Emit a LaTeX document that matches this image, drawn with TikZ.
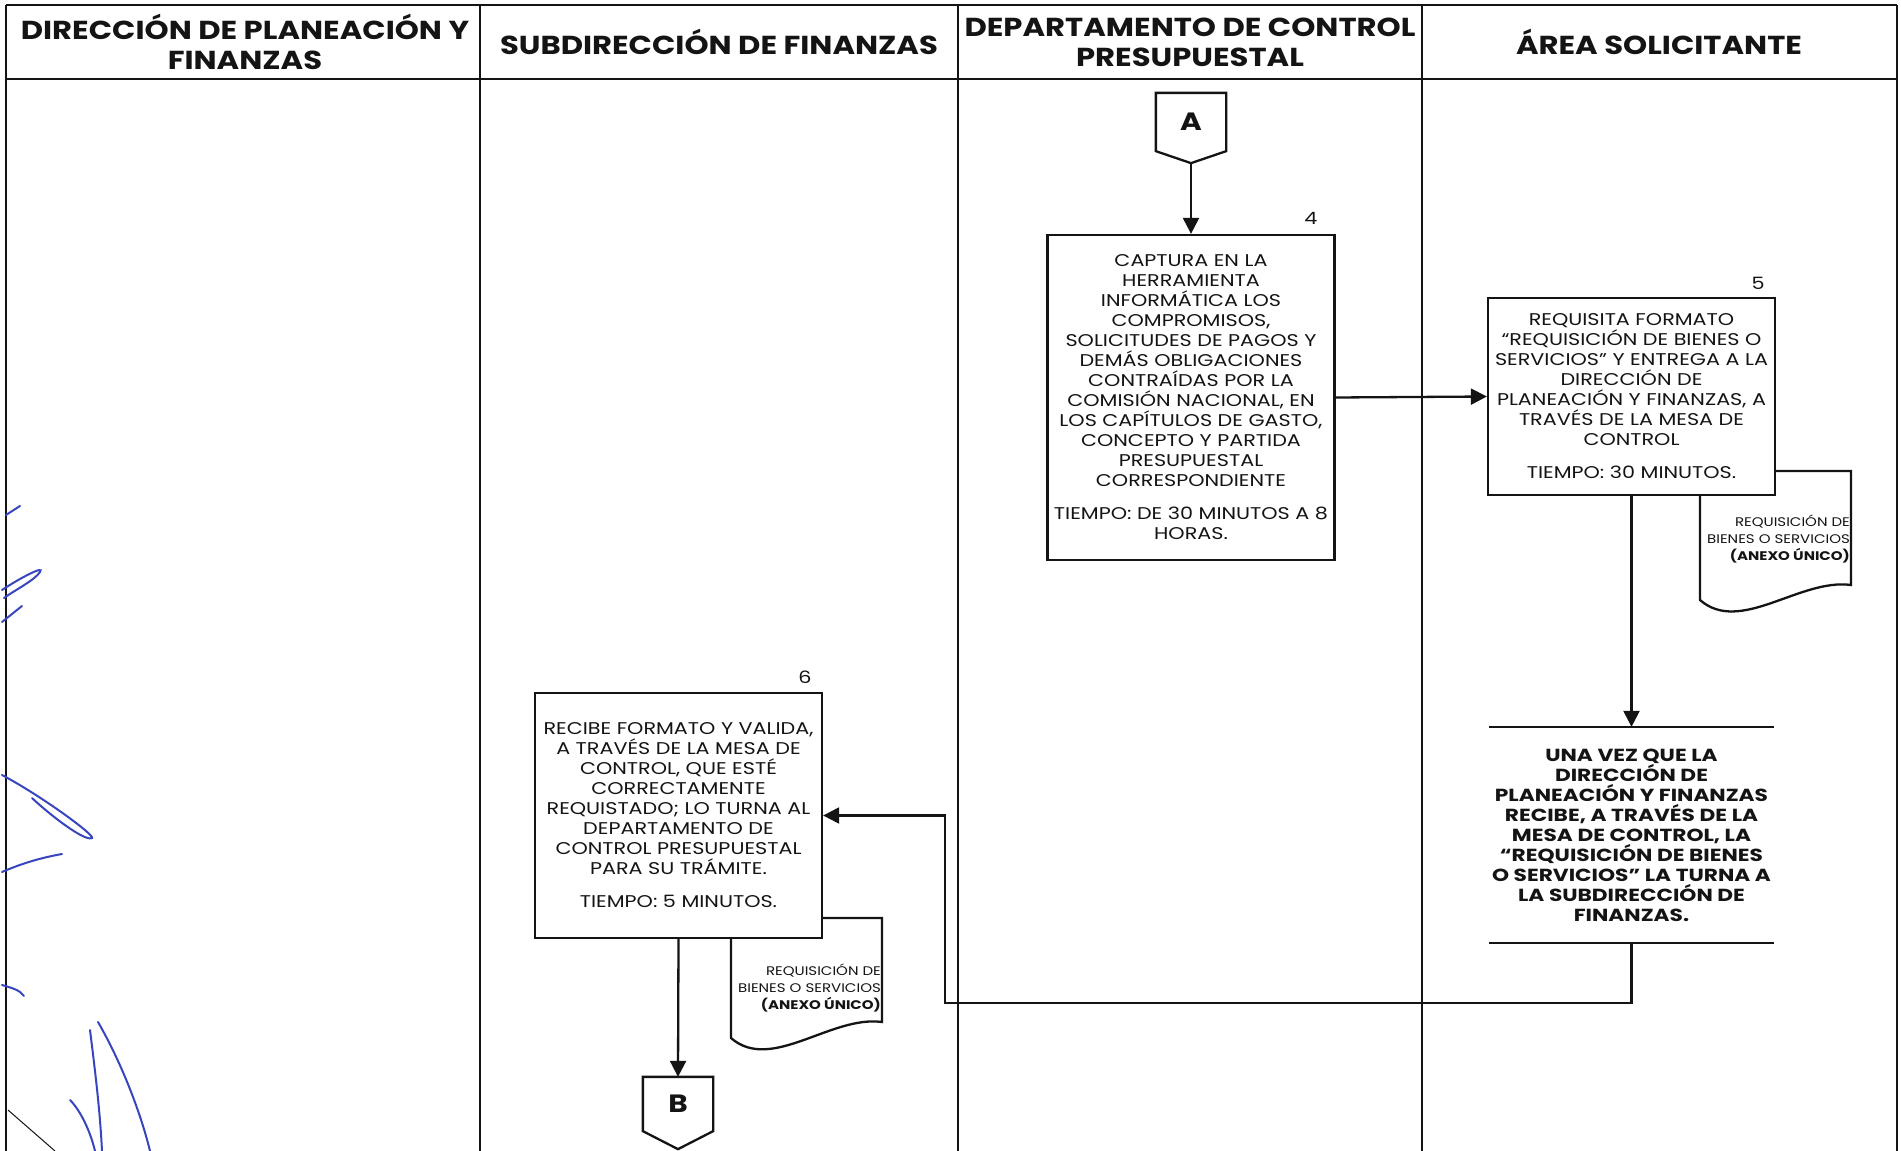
\documentclass[tikz,border=0pt]{standalone}
\usepackage{fontspec}
\setmainfont{Poppins}
\newfontfamily\bodyfam{Poppins}[FakeStretch=1.22]
\newfontfamily\headfam{Poppins}[FakeStretch=1.18]
\newfontfamily\notefam{Poppins}[FakeStretch=1.24]
\newfontfamily\docfam{Poppins}[FakeStretch=1.2]
\usetikzlibrary{arrows.meta,calc}
\definecolor{ink}{RGB}{20,20,20}
\definecolor{sig}{RGB}{55,70,190}
\newcommand{\bodyfont}{\bodyfam\fontsize{17}{20}\selectfont}
\newcommand{\notefont}{\notefam\bfseries\fontsize{17.5}{20}\selectfont}
\newcommand{\headfont}{\headfam\bfseries\fontsize{26}{30}\selectfont}
\newcommand{\docfont}{\docfam\fontsize{12.5}{16.7}\selectfont}
\begin{document}
\begin{tikzpicture}[x=1pt,y=-1pt,line width=2.3pt,draw=ink,
  proc/.style={draw=ink,fill=white,align=center,inner sep=0pt,font=\bodyfont,text=ink},
  note/.style={align=center,inner sep=0pt,font=\notefont,text=ink},
  head/.style={align=center,inner sep=0pt,font=\headfont,text=ink},
  conn/.style={inner sep=0pt,font=\headfam\bfseries\fontsize{25}{28}\selectfont,text=ink,minimum width=68pt},
  num/.style={inner sep=0pt,font=\bodyfam\fontsize{17}{20}\selectfont,text=ink},
  doclbl/.style={align=right,inner sep=0pt,font=\docfont,text=ink},
  arr/.style={-{Triangle[length=16pt,width=16pt]}},
  sigline/.style={draw=sig,line width=2pt,line cap=round}]
\useasboundingbox (0,0) rectangle (1901,1151);
\fill[white] (0,0) rectangle (1901,1151);

% table
\draw (6,5) -- (1897,5);
\draw (6,79) -- (1897,79);
\foreach \x in {6,480,958,1422,1897} \draw (\x,5) -- (\x,1151);

% headers
\node[head] (h1) at (245,42) {DIRECCIÓN DE PLANEACIÓN Y\\FINANZAS};
\node[head] (h2) at (719,42) {SUBDIRECCIÓN DE FINANZAS};
\node[head] (h3) at (1190,42) {DEPARTAMENTO DE CONTROL\\PRESUPUESTAL};
\node[head] (h4) at (1659,42) {ÁREA SOLICITANTE};

% signature scribbles
\draw[sigline] (6,515) -- (20,506);
\draw[sigline] (2,590) .. controls (20,578) and (45,565) .. (40,572) .. controls (35,580) and (15,590) .. (4,598);
\draw[sigline] (2,622) -- (22,606);
\draw[sigline] (2,775) .. controls (40,795) and (95,835) .. (92,838) .. controls (85,842) and (50,815) .. (32,798);
\draw[sigline] (2,872) .. controls (25,862) and (45,857) .. (62,854);
\draw[sigline] (2,985) .. controls (12,988) and (20,990) .. (24,996);
\draw[sigline] (98,1022) .. controls (120,1060) and (140,1110) .. (150,1151);
\draw[sigline] (90,1030) .. controls (95,1070) and (100,1110) .. (102,1151);
\draw[sigline] (70,1100) .. controls (80,1110) and (90,1130) .. (95,1151);
\draw[ink,line width=1pt] (8,1110) -- (55,1151);

% documents (behind boxes)
\draw[fill=white] (1700,471) -- (1851,471) -- (1851,585)
  .. controls (1800,578) and (1740,635) .. (1700,600) -- cycle;
\node[doclbl,anchor=north east] (doc5) at (1851,514)
  {REQUISICIÓN DE\\BIENES O SERVICIOS\\\textbf{(ANEXO ÚNICO)}};
\draw[fill=white] (731,918) -- (882,918) -- (882,1022)
  .. controls (831,1015) and (771,1073) .. (731,1038) -- cycle;
\node[doclbl,anchor=north east] (doc6) at (882,963)
  {REQUISICIÓN DE\\BIENES O SERVICIOS\\\textbf{(ANEXO ÚNICO)}};

% off-page connectors
\node[conn,minimum height=56pt] (A) at (1191,122) {A};
\draw (A.north west) -- (A.north east) -- (A.south east) -- ($(A.south)+(0,12)$) -- (A.south west) -- cycle;
\coordinate (Atip) at ($(A.south)+(0,12)$);
\node[conn,minimum height=52pt] (B) at (678,1104) {B};
\draw (B.north west) -- (B.north east) -- (B.south east) -- ($(B.south)+(0,18)$) -- (B.south west) -- cycle;

% process boxes
\node[proc,minimum width=287pt,minimum height=325pt] (p4) at (1191,397.5)
 {CAPTURA EN LA\\HERRAMIENTA\\INFORMÁTICA LOS\\COMPROMISOS,\\SOLICITUDES DE PAGOS Y\\DEMÁS OBLIGACIONES\\CONTRAÍDAS POR LA\\COMISIÓN NACIONAL, EN\\LOS CAPÍTULOS DE GASTO,\\CONCEPTO Y PARTIDA\\PRESUPUESTAL\\CORRESPONDIENTE\\[13pt]TIEMPO: DE 30 MINUTOS A 8\\HORAS.};
\node[num] (n4) at (1311,218) {4};

\node[proc,minimum width=287pt,minimum height=197pt] (p5) at (1631.5,396.5)
 {REQUISITA FORMATO\\“REQUISICIÓN DE BIENES O\\SERVICIOS” Y ENTREGA A LA\\DIRECCIÓN DE\\PLANEACIÓN Y FINANZAS, A\\TRAVÉS DE LA MESA DE\\CONTROL\\[13pt]TIEMPO: 30 MINUTOS.};
\node[num] (n5) at (1758,283) {5};

\node[proc,minimum width=287pt,minimum height=245pt] (p6) at (678.5,815.5)
 {RECIBE FORMATO Y VALIDA,\\A TRAVÉS DE LA MESA DE\\CONTROL, QUE ESTÉ\\CORRECTAMENTE\\REQUISTADO; LO TURNA AL\\DEPARTAMENTO DE\\CONTROL PRESUPUESTAL\\PARA SU TRÁMITE.\\[13pt]TIEMPO: 5 MINUTOS.};
\node[num] (n6) at (805,677) {6};

\node[note,minimum width=282pt,minimum height=214pt] (nota) at (1631.5,835)
 {UNA VEZ QUE LA\\DIRECCIÓN DE\\PLANEACIÓN Y FINANZAS\\RECIBE, A TRAVÉS DE LA\\MESA DE CONTROL, LA\\“REQUISICIÓN DE BIENES\\O SERVICIOS” LA TURNA A\\LA SUBDIRECCIÓN DE\\FINANZAS.};
\draw (nota.north west) -- (nota.north east);
\draw (nota.south west) -- (nota.south east);

% connectors
\draw[arr] (Atip) -- (p4.north);
\draw[arr] (p4.east) -- (p5.west);
\draw[arr] (p5.south) -- (nota.north);
\coordinate (c1) at (945,1003);
\draw[arr] (nota.south) |- (c1) -- (c1 |- p6.east) -- (p6.east);
\draw[arr] (p6.south) -- (B.north);
\end{tikzpicture}
\end{document}
